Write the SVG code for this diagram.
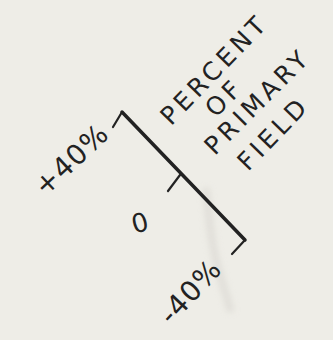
<svg xmlns="http://www.w3.org/2000/svg" width="333" height="340" viewBox="0 0 333 340">
  <defs>
    <style>
      .ink { stroke: #222; fill: none; stroke-linecap: round; stroke-linejoin: round; }
      .lbl { font-family: "DejaVu Sans", "Liberation Sans", sans-serif; fill: #222; text-anchor: middle; dominant-baseline: central; }
    </style>
    <filter id="blur" x="-50%" y="-50%" width="200%" height="200%">
      <feGaussianBlur stdDeviation="3"/>
    </filter>
  </defs>
  <rect width="333" height="340" fill="#eeede7"/>
  <path d="M206 188 C209 220 212 250 220 275 C225 292 228 302 231 312" stroke="#d6d3ce" stroke-width="7" fill="none" opacity="0.6" filter="url(#blur)"/>
  <g id="connectors">
    <path class="ink" d="M122 112 L245 240" stroke-width="3.5"/>
    <path class="ink" d="M113 127 L122 112" stroke-width="2.2"/>
    <path class="ink" d="M180 175 L168 191" stroke-width="2.2"/>
    <path class="ink" d="M245 240 L232 254" stroke-width="2.2"/>
  </g>
  <g id="label-plus40">
    <text class="lbl" font-size="28" letter-spacing="1" dx="0.5" transform="translate(71,160) rotate(-43)">+40%</text>
  </g>
  <g id="label-zero">
    <text class="lbl" font-size="26" transform="translate(140,223) rotate(-15)">0</text>
  </g>
  <g id="label-minus40">
    <text class="lbl" font-size="28" letter-spacing="1" dx="0.5" transform="translate(190,292) rotate(-47)">-40%</text>
  </g>
  <g id="label-title">
    <text class="lbl" font-size="25" letter-spacing="4" dx="2" transform="translate(213,71) rotate(-46)">PERCENT</text>
    <text class="lbl" font-size="25" letter-spacing="4" dx="2" transform="translate(223,99) rotate(-45)">OF</text>
    <text class="lbl" font-size="25" letter-spacing="4" dx="2" transform="translate(256,103) rotate(-45)">PRIMARY</text>
    <text class="lbl" font-size="25" letter-spacing="4" dx="2" transform="translate(272,135) rotate(-46)">FIELD</text>
  </g>
</svg>
